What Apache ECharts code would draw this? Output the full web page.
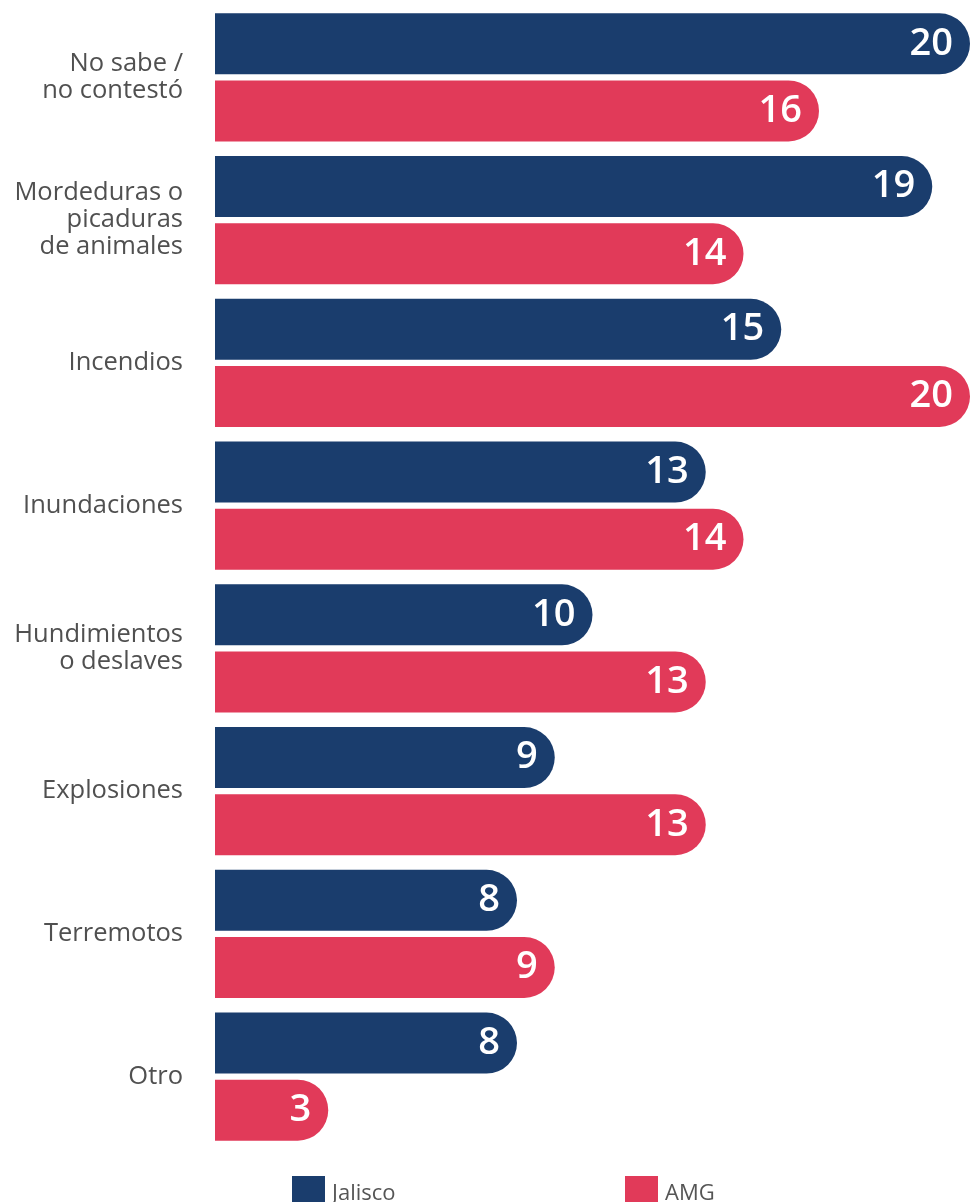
<!DOCTYPE html>
<html><head><meta charset="utf-8">
<script src="https://cdn.jsdelivr.net/npm/echarts@6/dist/echarts.min.js"></script>
<style>html,body{margin:0;padding:0;background:#fff}#c{width:970px;height:1202px}</style>
</head><body><div id="c"></div>
<script>
const categories = ["No sabe /\nno contestó","Mordeduras o\npicaduras\nde animales","Incendios","Inundaciones","Hundimientos\no deslaves","Explosiones","Terremotos","Otro"];
const jalisco = [20,19,15,13,10,9,8,8];
const amg = [16,14,20,14,13,13,9,3];
const seriesNames = ["Jalisco","AMG"];
const colors = ["#1a3d6d","#e13a59"];

const chart = echarts.init(document.getElementById('c'));
const lbl = {show:true, position:'insideRight', distance:17, color:'#fff', fontSize:38, fontWeight:600, fontFamily:'Open Sans'};
const rad = [0,31,31,0];
chart.setOption({
  animation:false,
  grid:{left:215,right:0,top:6,bottom:54},
  xAxis:{type:'value',min:0,max:20,show:false},
  yAxis:{type:'category',inverse:true,data:categories,
    axisLine:{show:false},axisTick:{show:false},
    axisLabel:{fontSize:25.5,lineHeight:27,color:'#505050',fontFamily:'Open Sans',margin:32,align:'right'}},
  legend:[
    {data:[seriesNames[0]],left:287,top:1171,itemWidth:33,itemHeight:36,icon:'rect',itemGap:15,
     textStyle:{fontSize:22,color:'#555',fontFamily:'Open Sans',padding:[16,0,0,2]}},
    {data:[seriesNames[1]],left:620,top:1171,itemWidth:33,itemHeight:36,icon:'rect',
     textStyle:{fontSize:22,color:'#555',fontFamily:'Open Sans',padding:[16,0,0,2]}}
  ],
  series:[
    {name:seriesNames[0],type:'bar',data:jalisco,barWidth:61,barGap:'10%',itemStyle:{color:colors[0],borderRadius:rad},label:lbl},
    {name:seriesNames[1],type:'bar',data:amg,barWidth:61,itemStyle:{color:colors[1],borderRadius:rad},label:lbl}
  ]
});
</script></body></html>
